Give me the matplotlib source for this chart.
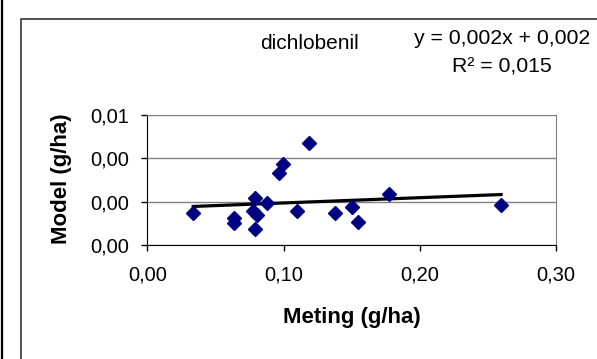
import numpy as np
import matplotlib
matplotlib.use('Agg')
import matplotlib.pyplot as plt
from matplotlib.ticker import FuncFormatter

plt.rcParams['font.family'] = ['Liberation Sans', 'DejaVu Sans']

# data
meting = [0.0336, 0.0635, 0.0635, 0.0792, 0.0777, 0.0806, 0.0792, 0.0878, 0.0968,
          0.0997, 0.110, 0.1188, 0.1379, 0.150, 0.1544, 0.1776, 0.2598]
model = [0.00149, 0.00123, 0.00103, 0.00216, 0.00157, 0.00137, 0.00075, 0.00195, 0.00331,
         0.00374, 0.00158, 0.00472, 0.00149, 0.00177, 0.00105, 0.00234, 0.00186]
title = 'dichlobenil'
eq_text = 'y = 0,002x + 0,002'
r2_text = 'R² = 0,015'
x_ticks = [0, 0.1, 0.2, 0.3]
y_ticks = [0, 0.002, 0.004, 0.006]

fig = plt.figure(figsize=(5.97, 3.59), dpi=100)

# outer frame lines
fig.add_artist(plt.Line2D([0.003, 0.003], [0, 1], color='black', lw=1.6, transform=fig.transFigure))
fig.add_artist(plt.Line2D([0.036, 0.036, 1], [0, 0.947, 0.947], color='#333333', lw=1.2, transform=fig.transFigure))

ax = fig.add_axes([0.247, 0.3175, 0.684, 0.3622])

x = np.array(meting)
y = np.array(model)
a, b = np.polyfit(x, y, 1)
xs = np.array([x.min(), x.max()])
ax.plot(xs, a * xs + b, color='black', lw=2.3, zorder=3)
ax.plot(x, y, 'D', color='#000080', markersize=7, zorder=4, linestyle='none')

ax.set_xlim(0, 0.3)
ax.set_ylim(0, 0.006)
ax.set_xticks(x_ticks)
ax.set_yticks(y_ticks)
fmt = FuncFormatter(lambda v, p: ('%.2f' % v).replace('.', ','))
ax.xaxis.set_major_formatter(fmt)
ax.yaxis.set_major_formatter(fmt)
ax.tick_params(labelsize=14.5, direction='out', length=4, width=1, color='black')
ax.tick_params(axis='x', pad=11)
ax.tick_params(axis='y', pad=9)
ax.grid(axis='y', color='#808080', lw=1)
ax.set_axisbelow(True)
for s in ['top', 'right']:
    ax.spines[s].set_color('#808080')
ax.spines['left'].set_color('black')
ax.spines['bottom'].set_color('black')

fig.text(0.589, 1 - 318 / 359, 'Meting (g/ha)', fontsize=16, fontweight='bold', ha='center', va='center')
fig.text(62 / 597, 1 - 179 / 359, 'Model (g/ha)', fontsize=16, fontweight='bold', ha='center', va='center',
         rotation=90)

fig.text(0.518, 0.88, title, fontsize=15, ha='center', va='center')
fig.text(0.841, 0.894, eq_text, fontsize=15.3, ha='center', va='center')
fig.text(0.841, 0.813, r2_text, fontsize=15.3, ha='center', va='center')

fig.savefig('out.png', dpi=100)
